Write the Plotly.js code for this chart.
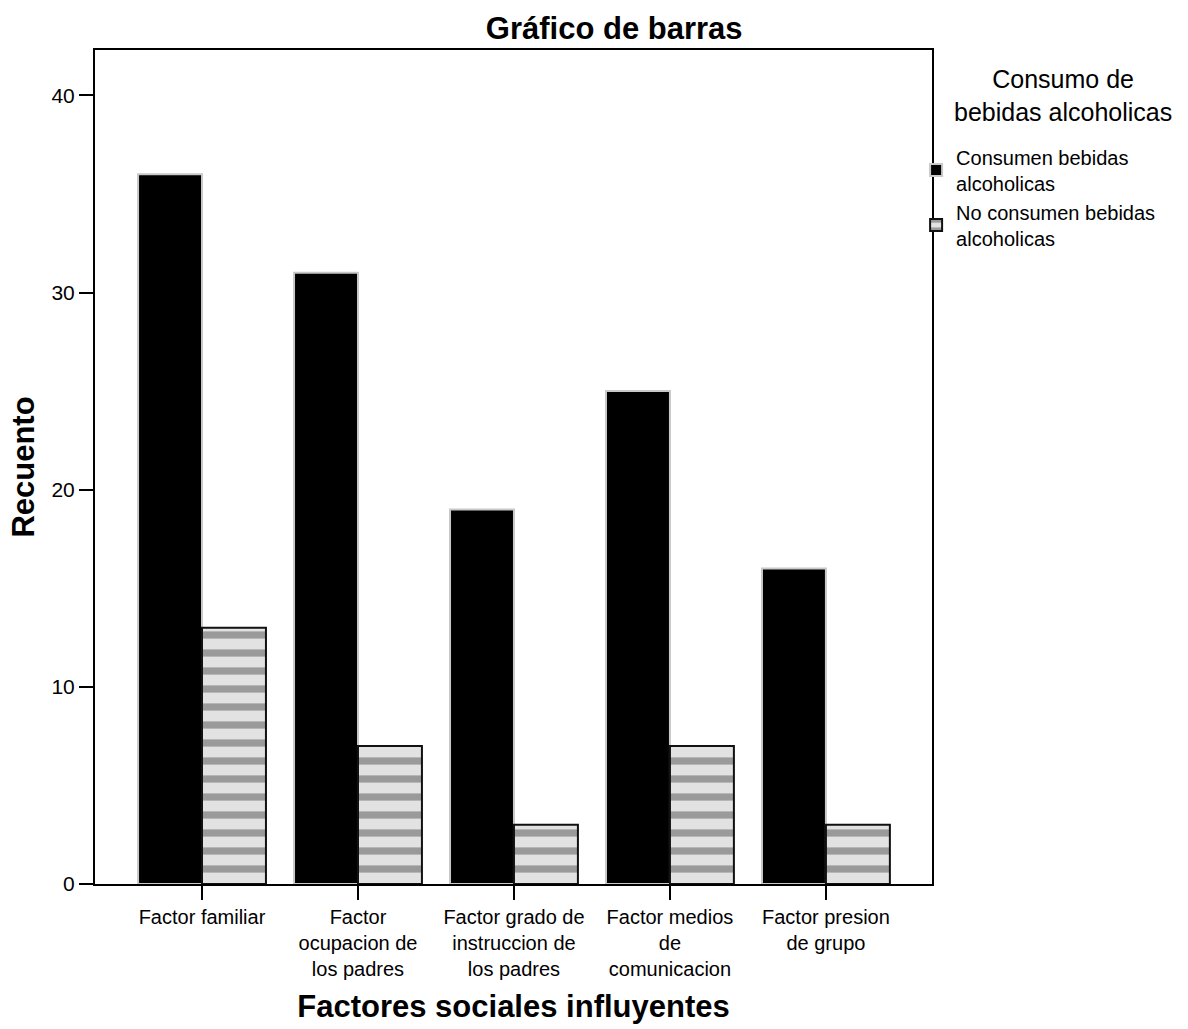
<!DOCTYPE html>
<html><head><meta charset="utf-8">
<script src="https://cdn.plot.ly/plotly-3.0.1.min.js"></script>
<style>body{margin:0;background:#fff}</style>
</head><body>
<div id="chart" style="width:1188px;height:1029px"></div>
<script>
const categories = ["Factor familiar", "Factor<br>ocupacion de<br>los padres", "Factor grado de<br>instruccion de<br>los padres", "Factor medios<br>de<br>comunicacion", "Factor presion<br>de grupo"];
const consumen = [36, 31, 19, 25, 16];
const noConsumen = [13, 7, 3, 7, 3];
const seriesNames = ["Consumen bebidas<br>alcoholicas", "No consumen bebidas<br>alcoholicas"];
const legendTitle = "Consumo de<br>bebidas alcoholicas";
const yTicks = [0, 10, 20, 30, 40];

const font = "Liberation Sans, Arial, sans-serif";
const data = [
  {type:"bar", x:categories, y:consumen, name:seriesNames[0],
   marker:{color:"#000", line:{color:"#c8c8c8", width:2}}},
  {type:"bar", x:categories, y:noConsumen, name:seriesNames[1],
   marker:{color:"#e0e0e0", line:{color:"#111", width:2},
     pattern:{shape:"-", fgcolor:"#9a9a9a", bgcolor:"#e2e2e2", size:18, solidity:0.4}}}
];
const layout = {
  width:1188, height:1029,
  margin:{l:95, r:256, t:50, b:145},
  paper_bgcolor:"#fff", plot_bgcolor:"#fff",
  font:{family:font, color:"#000", size:20},
  title:{text:"<b>Gráfico de barras</b>", font:{family:font, size:31, color:"#000"}, x:0.517, xanchor:"center", y:0.973, yanchor:"middle"},
  barmode:"group", bargap:0.18, bargroupgap:0,
  xaxis:{type:"category", range:[-0.686, 4.68], showline:true, linecolor:"#000", linewidth:2, mirror:true,
    ticks:"outside", ticklen:14, tickwidth:2, tickcolor:"#000", tickson:"labels",
    tickfont:{family:font, size:20}, showgrid:false, zeroline:false,
    title:{text:"<b>Factores sociales influyentes</b>", font:{family:font, size:31}, standoff:16}},
  yaxis:{range:[0, 42.3], tickvals:yTicks, showline:true, linecolor:"#000", linewidth:2, mirror:true,
    ticks:"outside", ticklen:14, tickwidth:2, tickcolor:"#000",
    tickfont:{family:font, size:21}, showgrid:false, zeroline:false,
    title:{text:"<b>Recuento</b>", font:{family:font, size:31}, standoff:8}},
  legend:{x:0.981, xanchor:"left", y:0.895, yanchor:"top", bgcolor:"rgba(0,0,0,0)",
    font:{family:font, size:20}, itemwidth:30, tracegroupgap:0},
  annotations:[{text:legendTitle, xref:"paper", yref:"paper", x:1.1565, y:0.945,
    xanchor:"center", yanchor:"middle", showarrow:false, align:"center",
    font:{family:font, size:25, color:"#000"}}],
  showlegend:true
};
Plotly.newPlot("chart", data, layout, {displayModeBar:false});
</script>
</body></html>
